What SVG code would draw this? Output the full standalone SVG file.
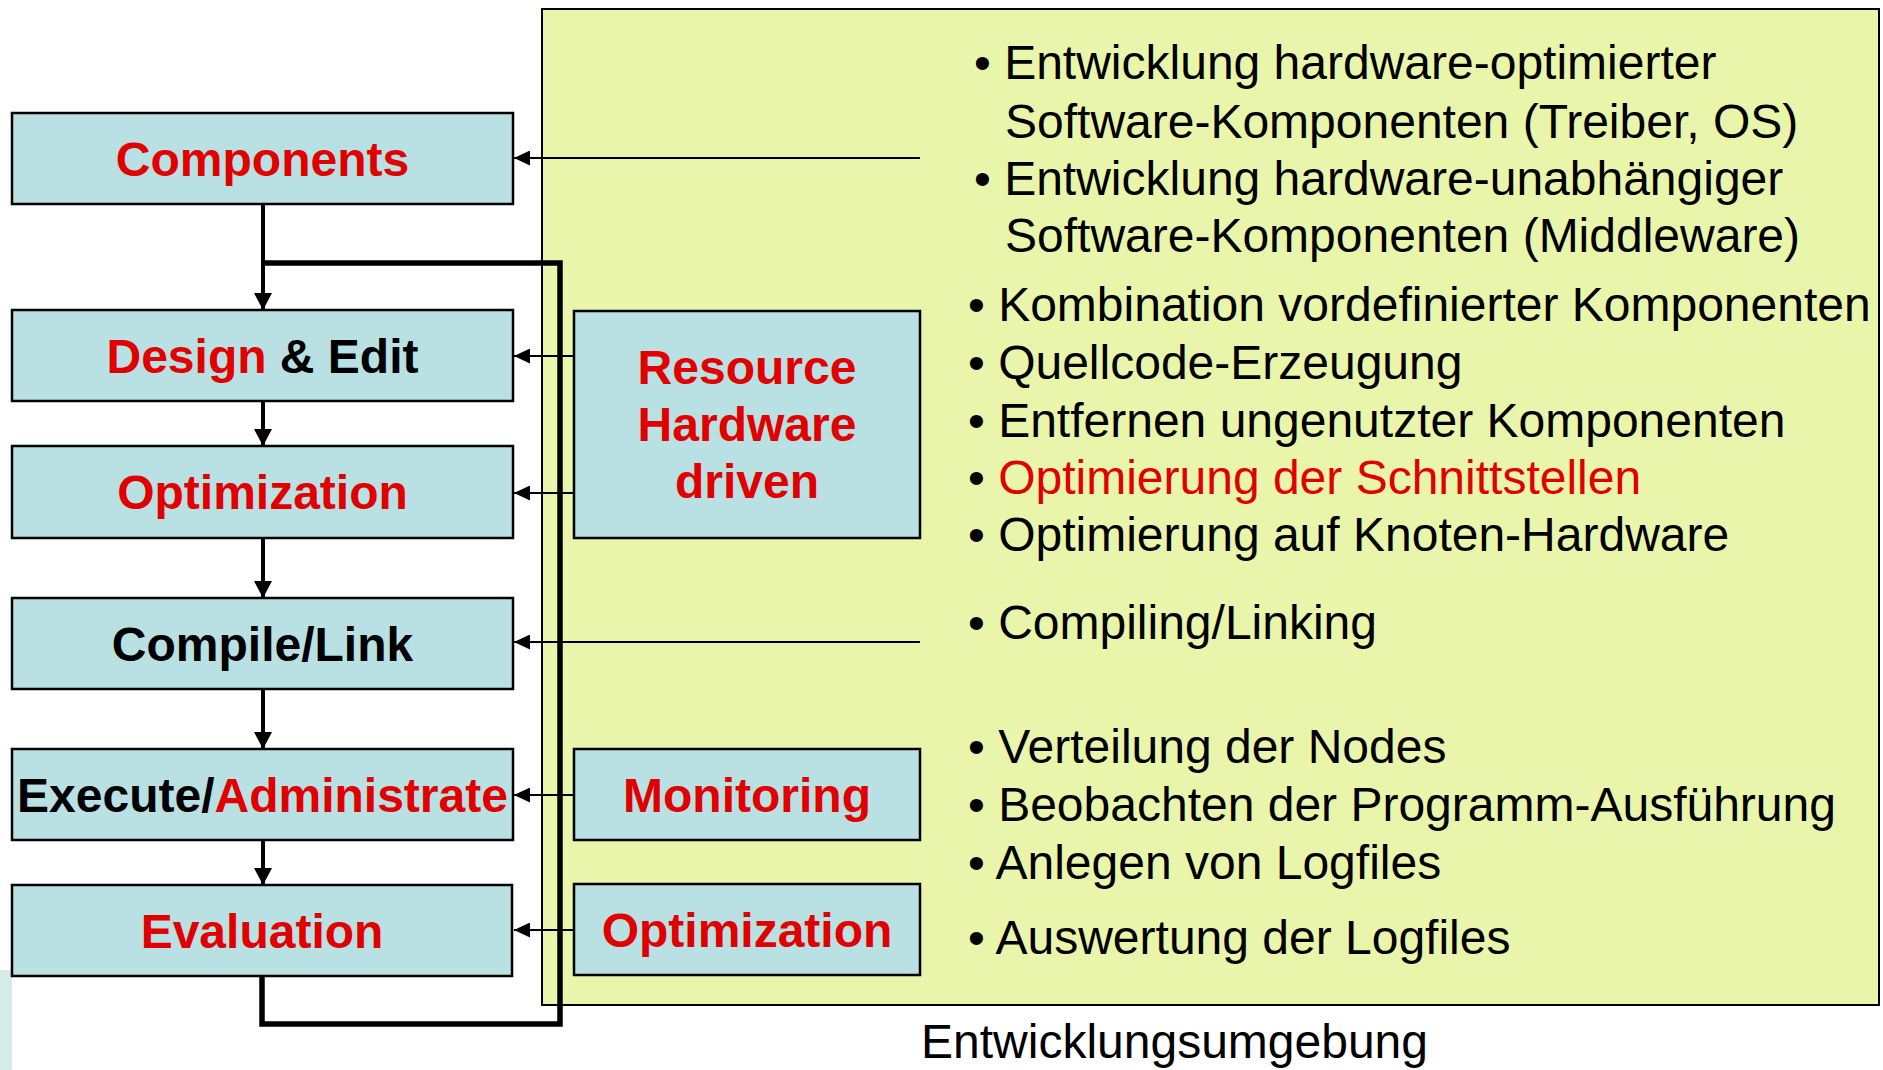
<svg xmlns="http://www.w3.org/2000/svg" width="1883" height="1070" viewBox="0 0 1883 1070">
<defs>
<style>
.box{fill:#b9e0e2;stroke:#000;stroke-width:2.5}
.lbl{font-family:"Liberation Sans",Arial,sans-serif;font-weight:bold;font-size:48px;text-anchor:middle}
.red{fill:#e00000}
.blk{fill:#000}
.item{font-family:"Liberation Sans",Arial,sans-serif;font-size:48px;fill:#000}
.thin{stroke:#000;stroke-width:2;fill:none}
.thick{stroke:#000;stroke-width:4;fill:none}
.loop{stroke:#000;stroke-width:5.5;fill:none}
</style>
<marker id="ah" markerUnits="userSpaceOnUse" markerWidth="16" markerHeight="15" refX="16" refY="7.5" orient="auto">
<path d="M0,0 L16,7.5 L0,15 Z" fill="#000"/>
</marker>
<marker id="av" markerUnits="userSpaceOnUse" markerWidth="17" markerHeight="18" refX="17" refY="9" orient="auto">
<path d="M0,0 L17,9 L0,18 Z" fill="#000"/>
</marker>
</defs>
<rect width="1883" height="1070" fill="#fff"/>
<rect x="0" y="970" width="12" height="100" fill="#d5eced"/>
<g id="panel">
<rect x="542" y="9" width="1337" height="996" fill="#e8f5aa" stroke="#000" stroke-width="2"/>
</g>
<g id="connectors">
<path class="loop" d="M263,263 H560 V1024 H262 V976"/>
<line class="thick" x1="263" y1="204" x2="263" y2="310" marker-end="url(#av)"/>
<line class="thick" x1="263" y1="401" x2="263" y2="446" marker-end="url(#av)"/>
<line class="thick" x1="263" y1="538" x2="263" y2="598" marker-end="url(#av)"/>
<line class="thick" x1="263" y1="689" x2="263" y2="749" marker-end="url(#av)"/>
<line class="thick" x1="263" y1="840" x2="263" y2="885" marker-end="url(#av)"/>
<line class="thin" x1="920" y1="158" x2="514" y2="158" marker-end="url(#ah)"/>
<line class="thin" x1="574" y1="356" x2="514" y2="356" marker-end="url(#ah)"/>
<line class="thin" x1="574" y1="493" x2="514" y2="493" marker-end="url(#ah)"/>
<line class="thin" x1="920" y1="642" x2="514" y2="642" marker-end="url(#ah)"/>
<line class="thin" x1="574" y1="795" x2="514" y2="795" marker-end="url(#ah)"/>
<line class="thin" x1="574" y1="930" x2="514" y2="930" marker-end="url(#ah)"/>
</g>
<g id="components">
<rect class="box" x="12" y="113" width="501" height="91"/>
<text class="lbl red" x="262.5" y="175.5">Components</text>
</g>
<g id="design-edit">
<rect class="box" x="12" y="310" width="501" height="91"/>
<text class="lbl" x="262.5" y="372.5"><tspan class="red">Design</tspan><tspan class="blk"> &amp; Edit</tspan></text>
</g>
<g id="optimization">
<rect class="box" x="12" y="446" width="501" height="92"/>
<text class="lbl red" x="262.5" y="509">Optimization</text>
</g>
<g id="compile-link">
<rect class="box" x="12" y="598" width="501" height="91"/>
<text class="lbl blk" x="262.5" y="660.5">Compile/Link</text>
</g>
<g id="execute-administrate">
<rect class="box" x="12" y="749" width="501" height="91"/>
<text class="lbl" x="262.5" y="811.5"><tspan class="blk">Execute/</tspan><tspan class="red">Administrate</tspan></text>
</g>
<g id="evaluation">
<rect class="box" x="12" y="885" width="500" height="91"/>
<text class="lbl red" x="262" y="947.5">Evaluation</text>
</g>
<g id="resource-hardware-driven">
<rect class="box" x="574" y="311" width="346" height="227"/>
<text class="lbl red" x="747" y="384">Resource</text>
<text class="lbl red" x="747" y="441">Hardware</text>
<text class="lbl red" x="747" y="498">driven</text>
</g>
<g id="monitoring">
<rect class="box" x="574" y="749" width="346" height="91"/>
<text class="lbl red" x="747" y="811.5">Monitoring</text>
</g>
<g id="optimization2">
<rect class="box" x="574" y="884" width="346" height="91"/>
<text class="lbl red" x="747" y="946.5">Optimization</text>
</g>
<g id="items">
<text class="item" x="974" y="79">• Entwicklung hardware-optimierter</text>
<text class="item" x="1005" y="137.5">Software-Komponenten (Treiber, OS)</text>
<text class="item" x="974" y="194.5">• Entwicklung hardware-unabhängiger</text>
<text class="item" x="1005" y="252">Software-Komponenten (Middleware)</text>
<text class="item" x="968" y="321">• Kombination vordefinierter Komponenten</text>
<text class="item" x="968" y="378.5">• Quellcode-Erzeugung</text>
<text class="item" x="968" y="436.5">• Entfernen ungenutzter Komponenten</text>
<text class="item" x="968" y="493.5">• <tspan fill="#e00000">Optimierung der Schnittstellen</tspan></text>
<text class="item" x="968" y="550.5">• Optimierung auf Knoten-Hardware</text>
<text class="item" x="968" y="639">• Compiling/Linking</text>
<text class="item" x="968" y="763">• Verteilung der Nodes</text>
<text class="item" x="968" y="821">• Beobachten der Programm-Ausführung</text>
<text class="item" x="968" y="878.5">• Anlegen von Logfiles</text>
<text class="item" x="968" y="954">• Auswertung der Logfiles</text>
</g>
<text class="item" x="921" y="1058">Entwicklungsumgebung</text>
</svg>
